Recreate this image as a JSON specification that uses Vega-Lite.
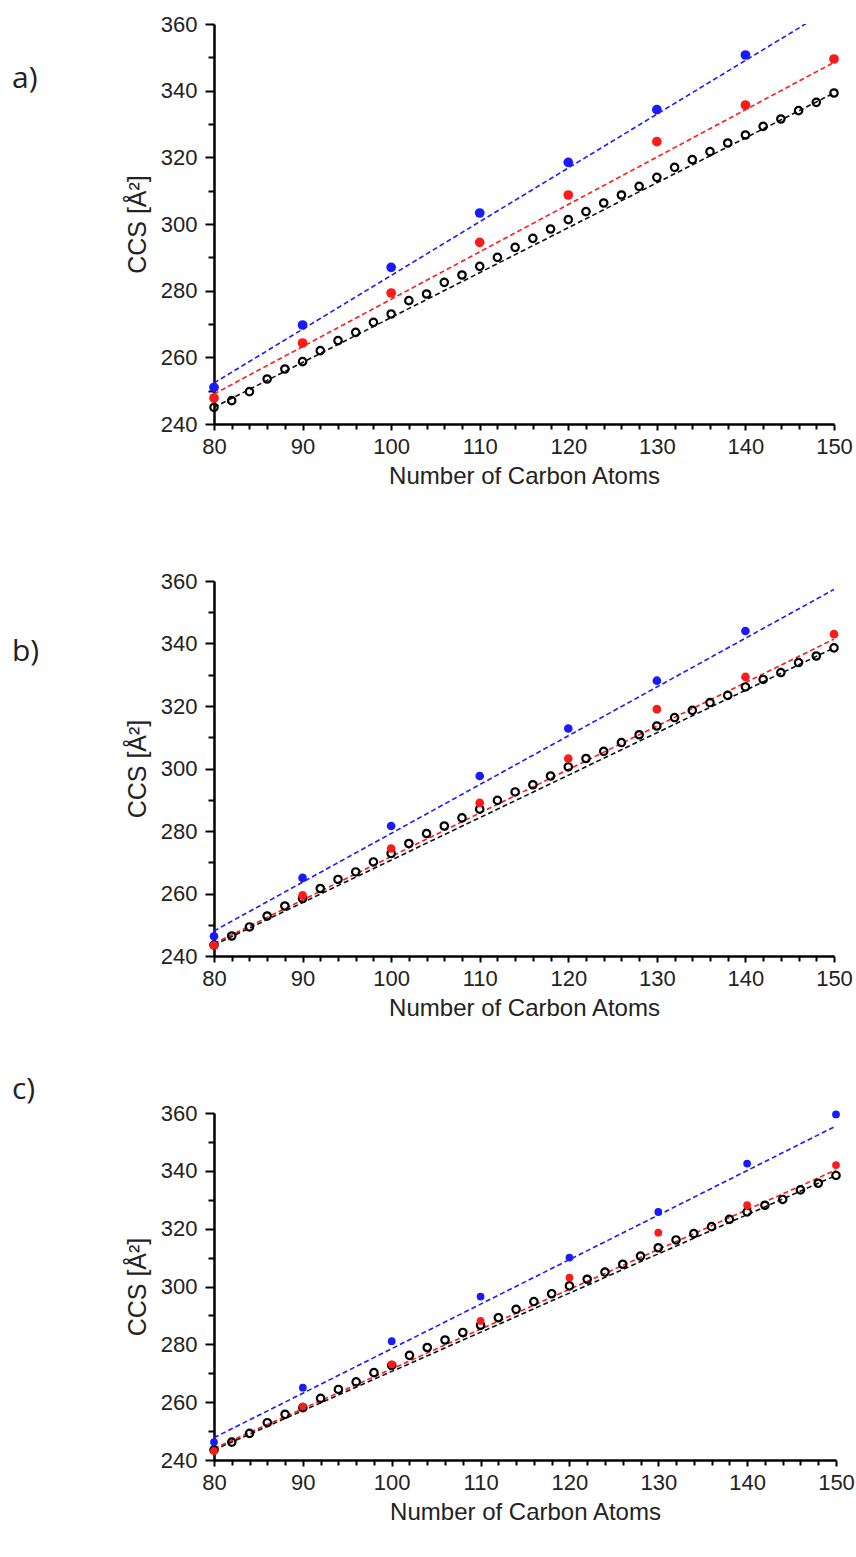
{
  "$schema": "https://vega.github.io/schema/vega-lite/v6.json",
  "padding": {"left": 12, "top": 13, "right": 0, "bottom": 0},
  "background": "white",
  "bounds": "flush",
  "spacing": 157,
  "datasets": {
    "pts": [
      {"panel":"a","series":"black","n":80,"ccs":245.0},{"panel":"a","series":"black","n":82,"ccs":247.0},{"panel":"a","series":"black","n":84,"ccs":249.7},{"panel":"a","series":"black","n":86,"ccs":253.5},{"panel":"a","series":"black","n":88,"ccs":256.5},{"panel":"a","series":"black","n":90,"ccs":258.7},{"panel":"a","series":"black","n":92,"ccs":262.0},{"panel":"a","series":"black","n":94,"ccs":265.0},{"panel":"a","series":"black","n":96,"ccs":267.5},{"panel":"a","series":"black","n":98,"ccs":270.5},{"panel":"a","series":"black","n":100,"ccs":273.0},{"panel":"a","series":"black","n":102,"ccs":277.0},{"panel":"a","series":"black","n":104,"ccs":279.0},{"panel":"a","series":"black","n":106,"ccs":282.5},{"panel":"a","series":"black","n":108,"ccs":284.7},{"panel":"a","series":"black","n":110,"ccs":287.3},{"panel":"a","series":"black","n":112,"ccs":290.0},{"panel":"a","series":"black","n":114,"ccs":293.0},{"panel":"a","series":"black","n":116,"ccs":295.7},{"panel":"a","series":"black","n":118,"ccs":298.5},{"panel":"a","series":"black","n":120,"ccs":301.3},{"panel":"a","series":"black","n":122,"ccs":303.7},{"panel":"a","series":"black","n":124,"ccs":306.3},{"panel":"a","series":"black","n":126,"ccs":308.7},{"panel":"a","series":"black","n":128,"ccs":311.3},{"panel":"a","series":"black","n":130,"ccs":314.0},{"panel":"a","series":"black","n":132,"ccs":317.0},{"panel":"a","series":"black","n":134,"ccs":319.3},{"panel":"a","series":"black","n":136,"ccs":321.7},{"panel":"a","series":"black","n":138,"ccs":324.3},{"panel":"a","series":"black","n":140,"ccs":326.7},{"panel":"a","series":"black","n":142,"ccs":329.3},{"panel":"a","series":"black","n":144,"ccs":331.5},{"panel":"a","series":"black","n":146,"ccs":334.0},{"panel":"a","series":"black","n":148,"ccs":336.5},{"panel":"a","series":"black","n":150,"ccs":339.3},
      {"panel":"b","series":"black","n":80,"ccs":243.5},{"panel":"b","series":"black","n":82,"ccs":246.4},{"panel":"b","series":"black","n":84,"ccs":249.3},{"panel":"b","series":"black","n":86,"ccs":252.8},{"panel":"b","series":"black","n":88,"ccs":256.0},{"panel":"b","series":"black","n":90,"ccs":258.4},{"panel":"b","series":"black","n":92,"ccs":261.6},{"panel":"b","series":"black","n":94,"ccs":264.5},{"panel":"b","series":"black","n":96,"ccs":266.9},{"panel":"b","series":"black","n":98,"ccs":270.1},{"panel":"b","series":"black","n":100,"ccs":272.8},{"panel":"b","series":"black","n":102,"ccs":276.0},{"panel":"b","series":"black","n":104,"ccs":279.2},{"panel":"b","series":"black","n":106,"ccs":281.6},{"panel":"b","series":"black","n":108,"ccs":284.2},{"panel":"b","series":"black","n":110,"ccs":287.0},{"panel":"b","series":"black","n":112,"ccs":289.8},{"panel":"b","series":"black","n":114,"ccs":292.5},{"panel":"b","series":"black","n":116,"ccs":294.8},{"panel":"b","series":"black","n":118,"ccs":297.6},{"panel":"b","series":"black","n":120,"ccs":300.5},{"panel":"b","series":"black","n":122,"ccs":303.2},{"panel":"b","series":"black","n":124,"ccs":305.5},{"panel":"b","series":"black","n":126,"ccs":308.3},{"panel":"b","series":"black","n":128,"ccs":310.8},{"panel":"b","series":"black","n":130,"ccs":313.6},{"panel":"b","series":"black","n":132,"ccs":316.3},{"panel":"b","series":"black","n":134,"ccs":318.6},{"panel":"b","series":"black","n":136,"ccs":321.1},{"panel":"b","series":"black","n":138,"ccs":323.4},{"panel":"b","series":"black","n":140,"ccs":326.1},{"panel":"b","series":"black","n":142,"ccs":328.5},{"panel":"b","series":"black","n":144,"ccs":330.7},{"panel":"b","series":"black","n":146,"ccs":333.9},{"panel":"b","series":"black","n":148,"ccs":336.0},{"panel":"b","series":"black","n":150,"ccs":338.6},
      {"panel":"c","series":"black","n":80,"ccs":243.5},{"panel":"c","series":"black","n":82,"ccs":246.2},{"panel":"c","series":"black","n":84,"ccs":249.2},{"panel":"c","series":"black","n":86,"ccs":252.9},{"panel":"c","series":"black","n":88,"ccs":255.8},{"panel":"c","series":"black","n":90,"ccs":258.1},{"panel":"c","series":"black","n":92,"ccs":261.3},{"panel":"c","series":"black","n":94,"ccs":264.4},{"panel":"c","series":"black","n":96,"ccs":267.0},{"panel":"c","series":"black","n":98,"ccs":270.2},{"panel":"c","series":"black","n":100,"ccs":272.7},{"panel":"c","series":"black","n":102,"ccs":276.2},{"panel":"c","series":"black","n":104,"ccs":278.9},{"panel":"c","series":"black","n":106,"ccs":281.5},{"panel":"c","series":"black","n":108,"ccs":284.1},{"panel":"c","series":"black","n":110,"ccs":286.6},{"panel":"c","series":"black","n":112,"ccs":289.2},{"panel":"c","series":"black","n":114,"ccs":292.1},{"panel":"c","series":"black","n":116,"ccs":294.8},{"panel":"c","series":"black","n":118,"ccs":297.5},{"panel":"c","series":"black","n":120,"ccs":300.2},{"panel":"c","series":"black","n":122,"ccs":302.5},{"panel":"c","series":"black","n":124,"ccs":305.0},{"panel":"c","series":"black","n":126,"ccs":307.7},{"panel":"c","series":"black","n":128,"ccs":310.5},{"panel":"c","series":"black","n":130,"ccs":313.4},{"panel":"c","series":"black","n":132,"ccs":316.1},{"panel":"c","series":"black","n":134,"ccs":318.3},{"panel":"c","series":"black","n":136,"ccs":320.7},{"panel":"c","series":"black","n":138,"ccs":323.2},{"panel":"c","series":"black","n":140,"ccs":325.8},{"panel":"c","series":"black","n":142,"ccs":328.1},{"panel":"c","series":"black","n":144,"ccs":330.1},{"panel":"c","series":"black","n":146,"ccs":333.4},{"panel":"c","series":"black","n":148,"ccs":335.7},{"panel":"c","series":"black","n":150,"ccs":338.4},
      {"panel":"a","series":"blue","n":80,"ccs":251.0},{"panel":"a","series":"blue","n":90,"ccs":269.7},{"panel":"a","series":"blue","n":100,"ccs":287.0},{"panel":"a","series":"blue","n":110,"ccs":303.3},{"panel":"a","series":"blue","n":120,"ccs":318.5},{"panel":"a","series":"blue","n":130,"ccs":334.3},{"panel":"a","series":"blue","n":140,"ccs":350.7},
      {"panel":"a","series":"red","n":80,"ccs":247.8},{"panel":"a","series":"red","n":90,"ccs":264.3},{"panel":"a","series":"red","n":100,"ccs":279.3},{"panel":"a","series":"red","n":110,"ccs":294.5},{"panel":"a","series":"red","n":120,"ccs":308.7},{"panel":"a","series":"red","n":130,"ccs":324.7},{"panel":"a","series":"red","n":140,"ccs":335.7},{"panel":"a","series":"red","n":150,"ccs":349.5},
      {"panel":"b","series":"blue","n":80,"ccs":246.3},{"panel":"b","series":"blue","n":90,"ccs":265.0},{"panel":"b","series":"blue","n":100,"ccs":281.6},{"panel":"b","series":"blue","n":110,"ccs":297.6},{"panel":"b","series":"blue","n":120,"ccs":312.8},{"panel":"b","series":"blue","n":130,"ccs":328.1},{"panel":"b","series":"blue","n":140,"ccs":344.0},
      {"panel":"b","series":"red","n":80,"ccs":243.4},{"panel":"b","series":"red","n":90,"ccs":259.4},{"panel":"b","series":"red","n":100,"ccs":274.4},{"panel":"b","series":"red","n":110,"ccs":289.0},{"panel":"b","series":"red","n":120,"ccs":303.2},{"panel":"b","series":"red","n":130,"ccs":319.0},{"panel":"b","series":"red","n":140,"ccs":329.3},{"panel":"b","series":"red","n":150,"ccs":343.0},
      {"panel":"c","series":"blue","n":80,"ccs":246.2},{"panel":"c","series":"blue","n":90,"ccs":265.0},{"panel":"c","series":"blue","n":100,"ccs":281.1},{"panel":"c","series":"blue","n":110,"ccs":296.5},{"panel":"c","series":"blue","n":120,"ccs":310.0},{"panel":"c","series":"blue","n":130,"ccs":325.8},{"panel":"c","series":"blue","n":140,"ccs":342.5},{"panel":"c","series":"blue","n":150,"ccs":359.5},
      {"panel":"c","series":"red","n":80,"ccs":243.1},{"panel":"c","series":"red","n":90,"ccs":258.5},{"panel":"c","series":"red","n":100,"ccs":273.1},{"panel":"c","series":"red","n":110,"ccs":288.1},{"panel":"c","series":"red","n":120,"ccs":303.1},{"panel":"c","series":"red","n":130,"ccs":318.6},{"panel":"c","series":"red","n":140,"ccs":328.1},{"panel":"c","series":"red","n":150,"ccs":342.0}
    ],
    "fits": [
      {"panel":"a","series":"blue","n":80,"ccs":252.3},{"panel":"a","series":"blue","n":150,"ccs":365.2},
      {"panel":"a","series":"red","n":80,"ccs":249.0},{"panel":"a","series":"red","n":150,"ccs":348.5},
      {"panel":"a","series":"black","n":80,"ccs":245.0},{"panel":"a","series":"black","n":150,"ccs":339.3},
      {"panel":"b","series":"blue","n":80,"ccs":248.0},{"panel":"b","series":"blue","n":150,"ccs":357.3},
      {"panel":"b","series":"red","n":80,"ccs":244.0},{"panel":"b","series":"red","n":150,"ccs":341.4},
      {"panel":"b","series":"black","n":80,"ccs":243.5},{"panel":"b","series":"black","n":150,"ccs":338.6},
      {"panel":"c","series":"blue","n":80,"ccs":247.7},{"panel":"c","series":"blue","n":150,"ccs":355.5},
      {"panel":"c","series":"red","n":80,"ccs":244.0},{"panel":"c","series":"red","n":150,"ccs":340.3},
      {"panel":"c","series":"black","n":80,"ccs":243.5},{"panel":"c","series":"black","n":150,"ccs":338.4}
    ]
  },
  "vconcat": [
    {
      "width": 620, "height": 400,
      "title": {"text": "a)", "anchor": "start", "frame": "group", "dx": -202, "dy": 85},
      "encoding": {
        "x": {"field": "n", "type": "quantitative", "scale": {"domain": [80, 150], "nice": false, "zero": false},
              "axis": {"title": "Number of Carbon Atoms", "values": [80,82,84,86,88,90,92,94,96,98,100,102,104,106,108,110,112,114,116,118,120,122,124,126,128,130,132,134,136,138,140,142,144,146,148,150],
                       "labelExpr": "datum.value % 10 === 0 ? datum.label : ''",
                       "tickSize": {"condition": {"test": "datum.value % 10 === 0", "value": 6}, "value": 5}}},
        "y": {"field": "ccs", "type": "quantitative", "scale": {"domain": [240, 360], "nice": false, "zero": false},
              "axis": {"title": "CCS [Å²]", "values": [240,250,260,270,280,290,300,310,320,330,340,350,360],
                       "labelExpr": "datum.value % 20 === 0 ? datum.label : ''",
                       "tickSize": {"condition": {"test": "datum.value % 20 === 0", "value": 9}, "value": 6}}}
      },
      "layer": [
        {"data": {"name": "fits"}, "transform": [{"filter": "datum.panel === 'a'"}],
         "mark": {"type": "line", "clip": true, "strokeWidth": 1.6, "strokeDash": [5, 3]},
         "encoding": {"color": {"field": "series", "type": "nominal", "scale": {"domain": ["blue","red","black"], "range": ["#1a1aff","#ff1a1a","#111111"]}, "legend": null}, "detail": {"field": "series"}}},
        {"data": {"name": "pts"}, "transform": [{"filter": "datum.panel === 'a' && datum.series === 'black'"}],
         "mark": {"type": "point", "filled": false, "stroke": "#000000", "strokeWidth": 2.2, "size": 55, "opacity": 1}},
        {"data": {"name": "pts"}, "transform": [{"filter": "datum.panel === 'a' && datum.series !== 'black'"}],
         "mark": {"type": "circle", "size": 95, "opacity": 1},
         "encoding": {"color": {"field": "series", "type": "nominal", "scale": {"domain": ["blue","red","black"], "range": ["#0000f0","#ee0000","#000000"]}, "legend": null}}}
      ]
    },
    {
      "width": 620, "height": 375,
      "title": {"text": "b)", "anchor": "start", "frame": "group", "dx": -202, "dy": 101},
      "encoding": {
        "x": {"field": "n", "type": "quantitative", "scale": {"domain": [80, 150], "nice": false, "zero": false},
              "axis": {"title": "Number of Carbon Atoms", "values": [80,82,84,86,88,90,92,94,96,98,100,102,104,106,108,110,112,114,116,118,120,122,124,126,128,130,132,134,136,138,140,142,144,146,148,150],
                       "labelExpr": "datum.value % 10 === 0 ? datum.label : ''",
                       "tickSize": {"condition": {"test": "datum.value % 10 === 0", "value": 6}, "value": 5}}},
        "y": {"field": "ccs", "type": "quantitative", "scale": {"domain": [240, 360], "nice": false, "zero": false},
              "axis": {"title": "CCS [Å²]", "values": [240,250,260,270,280,290,300,310,320,330,340,350,360],
                       "labelExpr": "datum.value % 20 === 0 ? datum.label : ''",
                       "tickSize": {"condition": {"test": "datum.value % 20 === 0", "value": 9}, "value": 6}}}
      },
      "layer": [
        {"data": {"name": "fits"}, "transform": [{"filter": "datum.panel === 'b'"}],
         "mark": {"type": "line", "clip": true, "strokeWidth": 1.6, "strokeDash": [5, 3]},
         "encoding": {"color": {"field": "series", "type": "nominal", "scale": {"domain": ["blue","red","black"], "range": ["#1a1aff","#ff1a1a","#111111"]}, "legend": null}, "detail": {"field": "series"}}},
        {"data": {"name": "pts"}, "transform": [{"filter": "datum.panel === 'b' && datum.series === 'black'"}],
         "mark": {"type": "point", "filled": false, "stroke": "#000000", "strokeWidth": 2.2, "size": 55, "opacity": 1}},
        {"data": {"name": "pts"}, "transform": [{"filter": "datum.panel === 'b' && datum.series !== 'black'"}],
         "mark": {"type": "circle", "size": 75, "opacity": 1},
         "encoding": {"color": {"field": "series", "type": "nominal", "scale": {"domain": ["blue","red","black"], "range": ["#0000f0","#ee0000","#000000"]}, "legend": null}}}
      ]
    },
    {
      "width": 622, "height": 347,
      "title": {"text": "c)", "anchor": "start", "frame": "group", "dx": -202, "dy": 7},
      "encoding": {
        "x": {"field": "n", "type": "quantitative", "scale": {"domain": [80, 150], "nice": false, "zero": false},
              "axis": {"title": "Number of Carbon Atoms", "values": [80,82,84,86,88,90,92,94,96,98,100,102,104,106,108,110,112,114,116,118,120,122,124,126,128,130,132,134,136,138,140,142,144,146,148,150],
                       "labelExpr": "datum.value % 10 === 0 ? datum.label : ''",
                       "tickSize": {"condition": {"test": "datum.value % 10 === 0", "value": 6}, "value": 5}}},
        "y": {"field": "ccs", "type": "quantitative", "scale": {"domain": [240, 360], "nice": false, "zero": false},
              "axis": {"title": "CCS [Å²]", "values": [240,250,260,270,280,290,300,310,320,330,340,350,360],
                       "labelExpr": "datum.value % 20 === 0 ? datum.label : ''",
                       "tickSize": {"condition": {"test": "datum.value % 20 === 0", "value": 9}, "value": 6}}}
      },
      "layer": [
        {"data": {"name": "fits"}, "transform": [{"filter": "datum.panel === 'c'"}],
         "mark": {"type": "line", "clip": true, "strokeWidth": 1.6, "strokeDash": [5, 3]},
         "encoding": {"color": {"field": "series", "type": "nominal", "scale": {"domain": ["blue","red","black"], "range": ["#1a1aff","#ff1a1a","#111111"]}, "legend": null}, "detail": {"field": "series"}}},
        {"data": {"name": "pts"}, "transform": [{"filter": "datum.panel === 'c' && datum.series === 'black'"}],
         "mark": {"type": "point", "filled": false, "stroke": "#000000", "strokeWidth": 2.2, "size": 55, "opacity": 1}},
        {"data": {"name": "pts"}, "transform": [{"filter": "datum.panel === 'c' && datum.series !== 'black'"}],
         "mark": {"type": "circle", "size": 60, "opacity": 1},
         "encoding": {"color": {"field": "series", "type": "nominal", "scale": {"domain": ["blue","red","black"], "range": ["#0000f0","#ee0000","#000000"]}, "legend": null}}}
      ]
    }
  ],
  "resolve": {"scale": {"color": "independent"}},
  "config": {
    "view": {"stroke": null},
    "font": "Liberation Sans",
    "title": {"font": "Open Sans", "fontSize": 30, "fontWeight": "normal", "color": "#222222", "offset": 0},
    "axis": {
      "grid": false,
      "domainColor": "#000000", "domainWidth": 2.5,
      "tickColor": "#000000", "tickWidth": 2,
      "labelFont": "Liberation Sans", "labelFontSize": 22, "labelColor": "#222222",
      "labelOverlap": false, "labelFlush": false,
      "titleFont": "Liberation Sans", "titleFontWeight": "normal", "titleColor": "#222222"
    },
    "axisX": {"labelPadding": 6, "titleFontSize": 24, "titlePadding": 7},
    "axisY": {"labelPadding": 8, "titleFontSize": 25, "titlePadding": 10}
  }
}
